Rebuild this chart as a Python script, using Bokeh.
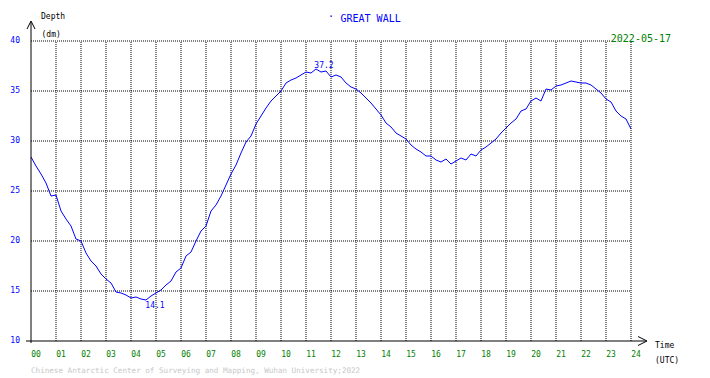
from bokeh.plotting import figure
from bokeh.models import Range1d, Label, Arrow, OpenHead
from bokeh.core.properties import value
from bokeh.embed import file_html
from bokeh.resources import INLINE

# ---- data ----
hours = [0.0, 0.2, 0.4, 0.6, 0.8, 1.0, 1.2, 1.4, 1.6, 1.8, 2.0, 2.2, 2.4, 2.6, 2.8,
         3.0, 3.2, 3.4, 3.6, 3.8, 4.0, 4.2, 4.4, 4.6, 4.8, 5.0, 5.2, 5.4, 5.6, 5.8,
         6.0, 6.2, 6.4, 6.6, 6.8, 7.0, 7.2, 7.4, 7.6, 7.8, 8.0, 8.2, 8.4, 8.6, 8.8,
         9.0, 9.2, 9.4, 9.6, 9.8, 10.0, 10.2, 10.4, 10.6, 10.8, 11.0, 11.2, 11.4, 11.6, 11.8,
         12.0, 12.2, 12.4, 12.6, 12.8, 13.0, 13.2, 13.4, 13.6, 13.8, 14.0, 14.2, 14.4, 14.6, 14.8,
         15.0, 15.2, 15.4, 15.6, 15.8, 16.0, 16.2, 16.4, 16.6, 16.8, 17.0, 17.2, 17.4, 17.6, 17.8,
         18.0, 18.2, 18.4, 18.6, 18.8, 19.0, 19.2, 19.4, 19.6, 19.8, 20.0, 20.2, 20.4, 20.6, 20.8,
         21.0, 21.2, 21.4, 21.6, 21.8, 22.0, 22.2, 22.4, 22.6, 22.8, 23.0, 23.2, 23.4, 23.6, 23.8, 24.0]
depth = [28.4, 27.5, 26.7, 25.8, 24.5, 24.6, 23.0, 22.2, 21.5, 20.2, 20.0, 18.8, 18.0, 17.5, 16.7,
         16.2, 15.8, 14.9, 14.8, 14.6, 14.3, 14.4, 14.2, 14.1, 14.5, 14.8, 15.1, 15.6, 16.0, 16.9,
         17.3, 18.5, 18.9, 20.0, 21.0, 21.5, 23.0, 23.6, 24.5, 25.6, 26.7, 27.6, 28.8, 29.9, 30.5,
         31.7, 32.5, 33.3, 34.0, 34.5, 35.0, 35.8, 36.1, 36.3, 36.6, 36.9, 36.8, 37.2, 36.9, 37.0,
         36.4, 36.6, 36.4, 35.8, 35.4, 35.2, 34.8, 34.3, 33.8, 33.2, 32.6, 31.8, 31.4, 30.8, 30.5,
         30.2, 29.6, 29.2, 28.9, 28.5, 28.5, 28.1, 27.9, 28.2, 27.7, 28.0, 28.3, 28.1, 28.7, 28.5,
         29.1, 29.4, 29.8, 30.2, 30.8, 31.3, 31.8, 32.2, 33.0, 33.2, 34.0, 34.3, 34.0, 35.2, 35.1,
         35.5, 35.6, 35.8, 36.0, 35.9, 35.8, 35.8, 35.6, 35.2, 34.8, 34.2, 33.9, 33.0, 32.5, 32.2, 31.2]
hour_ticks = list(range(0, 25))
hour_labels = ["00", "01", "02", "03", "04", "05", "06", "07", "08", "09", "10", "11", "12",
               "13", "14", "15", "16", "17", "18", "19", "20", "21", "22", "23", "24"]
depth_ticks = [10, 15, 20, 25, 30, 35, 40]
depth_labels = ["10", "15", "20", "25", "30", "35", "40"]
station = "GREAT WALL"
date_text = "2022-05-17"
max_text = "37.2"
min_text = "14.1"
footer = "Chinese Antarctic Center of Surveying and Mapping, Wuhan University;2022"

FONT = "DejaVu Sans Mono"
BLUE = "#0000ff"
GREEN = "#008000"

p = figure(width=694, height=376, output_backend="svg", toolbar_location=None,
           x_axis_type=None, y_axis_type=None, min_border=0,
           x_range=Range1d(-1.22, 26.54), y_range=Range1d(6.45, 44.05))
p.outline_line_color = None
p.grid.visible = False
p.background_fill_color = "white"
p.border_fill_color = "white"

h0, h1 = hour_ticks[0], hour_ticks[-1]
d0, d1 = depth_ticks[0], depth_ticks[-1]

# dotted grid
p.segment(x0=hour_ticks[1:], y0=[d0] * (len(hour_ticks) - 1),
          x1=hour_ticks[1:], y1=[d1] * (len(hour_ticks) - 1),
          line_color="black", line_width=1, line_dash="1 1")
p.segment(x0=[h0] * (len(depth_ticks) - 1), y0=depth_ticks[1:],
          x1=[h1] * (len(depth_ticks) - 1), y1=depth_ticks[1:],
          line_color="black", line_width=1, line_dash="1 1")

# tide curve
p.line(hours, depth, line_color=BLUE, line_width=1)

# tick labels
p.text(x=[h + 0.2 for h in hour_ticks], y=[d0 - 1.2] * len(hour_ticks), text=hour_labels,
       text_color=GREEN, text_font=value(FONT), text_font_size="8px",
       text_align="center", text_baseline="middle")
p.text(x=[h0 - 0.44] * len(depth_ticks), y=[d + 0.2 for d in depth_ticks], text=depth_labels,
       text_color=BLUE, text_font=value(FONT), text_font_size="8px",
       text_align="right", text_baseline="middle")

# axis arrows
p.add_layout(Arrow(end=OpenHead(size=8, line_width=1, line_color="black"),
                   x_start=h0, y_start=d0 - 0.2, x_end=h0, y_end=d1 + 2.0,
                   line_color="black", line_width=1))
p.add_layout(Arrow(end=OpenHead(size=9, line_width=1, line_color="black"),
                   x_start=h0 - 0.2, y_start=d0, x_end=h1 + 0.64, y_end=d0,
                   line_color="black", line_width=1))

def lab(text, x, y, color="black", size="8px", align="left", bg=None):
    kw = {}
    if bg:
        kw["background_fill_color"] = bg
    p.add_layout(Label(x=x, y=y, text=text, text_color=color, text_font=FONT,
                       text_font_size=size, text_align=align, text_baseline="middle", **kw))

lab("Depth", 0.4, 42.45)
lab("(dm)", 0.42, 40.65)
lab("·", 12.0, 42.5, color=BLUE, size="10px", align="center")
lab(station, 12.38, 42.3, color=BLUE, size="10px")
lab(date_text, 25.6, 40.35, color=GREEN, size="10px", align="right", bg="white")
lab(max_text, 11.72, 37.65, color=BLUE, align="center")
lab(min_text, 4.96, 13.7, color=BLUE, align="center")
lab("Time", 24.96, 9.6)
lab("(UTC)", 24.96, 8.05)
lab(footer, 0.0, 7.05, color="#c8c8c8", size="7.6px")

open("out.html", "w").write(file_html(p, INLINE))
